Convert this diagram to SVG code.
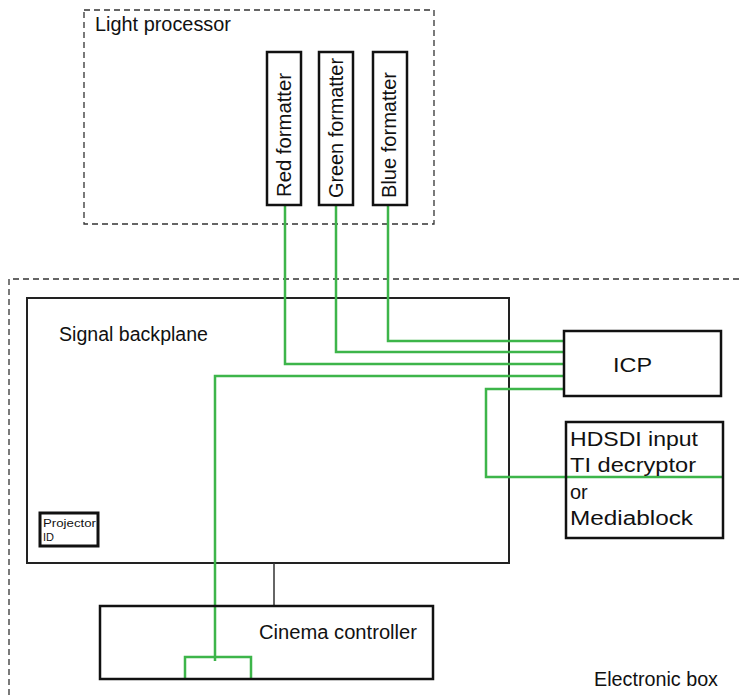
<svg xmlns="http://www.w3.org/2000/svg" width="741" height="695" viewBox="0 0 741 695">
<style>
text{font-family:"Liberation Sans",Arial,sans-serif;font-size:20px;fill:#111}
.dash{fill:none;stroke:#333;stroke-width:1.3;stroke-dasharray:6 4}
.box{fill:#fff;stroke:#111;stroke-width:2.5}
.big{fill:none;stroke:#222;stroke-width:2}
.g{fill:none;stroke:#3db54a;stroke-width:2.5}
</style>
<rect width="741" height="695" fill="#fff"/>
<g id="light-processor">
<rect class="dash" x="84" y="10" width="350" height="214"/>
<text x="95" y="31" textLength="136" lengthAdjust="spacingAndGlyphs">Light processor</text>
</g>
<g id="electronic-box">
<path class="dash" d="M9 695 V279 H741"/>
<text x="594" y="686" textLength="124" lengthAdjust="spacingAndGlyphs">Electronic box</text>
</g>
<g id="signal-backplane">
<rect class="big" x="27" y="298" width="482" height="265"/>
<text x="59" y="341" textLength="149" lengthAdjust="spacingAndGlyphs">Signal backplane</text>
</g>
<g id="projector-id">
<rect class="box" x="40" y="513" width="58" height="33" style="stroke-width:3"/>
<text x="43" y="527" style="font-size:11px" textLength="53" lengthAdjust="spacingAndGlyphs">Projector</text>
<text x="43" y="541" style="font-size:11px">ID</text>
</g>
<g id="connectors">
<path d="M274 563 V606" fill="none" stroke="#333" stroke-width="1.5"/>
<path class="g" d="M388 205 V341 H564"/>
<path class="g" d="M336 205 V352 H564"/>
<path class="g" d="M285 205 V364 H564"/>
<path class="g" d="M564 376 H215 V661"/>
<path class="g" d="M185 679 V657 H251 V679"/>
<path class="g" d="M564 389 H486 V477 H723"/>
</g>
<g id="red-formatter">
<rect class="box" x="267" y="52" width="34" height="153"/>
<text transform="translate(291,197) rotate(-90)" textLength="124" lengthAdjust="spacingAndGlyphs">Red formatter</text>
</g>
<g id="green-formatter">
<rect class="box" x="319" y="52" width="34" height="153"/>
<text transform="translate(343,198) rotate(-90)" textLength="140" lengthAdjust="spacingAndGlyphs">Green formatter</text>
</g>
<g id="blue-formatter">
<rect class="box" x="373" y="52" width="34" height="153"/>
<text transform="translate(396,198) rotate(-90)" textLength="126" lengthAdjust="spacingAndGlyphs">Blue formatter</text>
</g>
<g id="icp">
<rect class="box" x="564" y="331" width="157" height="65" style="fill:none"/>
<text x="613" y="372" textLength="39" lengthAdjust="spacingAndGlyphs">ICP</text>
</g>
<g id="hdsdi">
<rect class="box" x="566" y="422" width="157" height="116" style="fill:none"/>
<text x="570" y="446" textLength="128" lengthAdjust="spacingAndGlyphs">HDSDI input</text>
<text x="570" y="472" textLength="126" lengthAdjust="spacingAndGlyphs">TI decryptor</text>
<text x="570" y="499">or</text>
<text x="570" y="525" textLength="123" lengthAdjust="spacingAndGlyphs">Mediablock</text>
</g>
<g id="cinema-controller">
<rect class="box" x="100" y="606" width="333" height="73" style="fill:none"/>
<text x="259" y="639" textLength="158" lengthAdjust="spacingAndGlyphs">Cinema controller</text>
</g>
</svg>
